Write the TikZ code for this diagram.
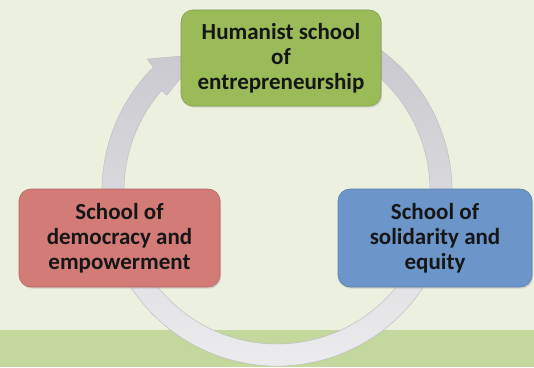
\documentclass[tikz,border=0pt]{standalone}
\usepackage{fontspec}
\setmainfont{Carlito}
\usetikzlibrary{calc,shadows}

\definecolor{bgpale}{RGB}{236,240,223}
\definecolor{bgband}{RGB}{196,215,157}
\definecolor{ringtop}{RGB}{198,198,204}
\definecolor{ringbot}{RGB}{238,238,240}
\definecolor{ringedge}{RGB}{185,185,192}
\definecolor{boxgreen}{RGB}{155,187,89}
\definecolor{boxred}{RGB}{211,123,119}
\definecolor{boxblue}{RGB}{108,150,202}
\definecolor{inkdark}{RGB}{22,22,22}

\tikzset{
  school/.style={
    rectangle, rounded corners=12pt, inner sep=0pt,
    minimum height=98pt, align=center, text=inkdark,
    font=\fontsize{23}{25}\selectfont\bfseries,
    line width=0.6pt,
    drop shadow={opacity=0.25, shadow xshift=1.2pt, shadow yshift=-1.6pt}
  },
  greenbox/.style={school, fill=boxgreen, draw=boxgreen!85!black, minimum width=200pt, minimum height=96pt},
  redbox/.style={school, fill=boxred, draw=boxred!85!black, minimum width=201pt},
  bluebox/.style={school, fill=boxblue, draw=boxblue!85!black, minimum width=194pt},
  cyclearrow/.style={top color=ringtop, bottom color=ringbot, draw=ringedge, line width=0.4pt}
}

\begin{document}
\begin{tikzpicture}[x=1pt,y=1pt]
  % page and lower band
  \fill[bgpale] (0,0) rectangle (534,367);
  \fill[bgband] (0,0) rectangle (534,37);
  \useasboundingbox (0,0) rectangle (534,367);

  % circular arrow running clockwise behind the three boxes
  \coordinate (ctr) at (277,176);
  \shade[cyclearrow]
    ($(ctr)+(75:175)$) arc[start angle=75, end angle=-225, radius=175pt]
    -- ($(ctr)+(134.5:185)$)
    -- ($(ctr)+(119.5:157)$)
    -- ($(ctr)+(139:146)$)
    -- ($(ctr)+(139:153)$)
    arc[start angle=-221, end angle=75, radius=153pt]
    -- cycle;

  % the three schools
  \node[greenbox] (human) at (281,309) {Humanist school\\of\\entrepreneurship};
  \node[redbox]   (democ) at (119.5,129) {School of\\democracy and\\empowerment};
  \node[bluebox]  (solid) at (435,129) {School of\\solidarity and\\equity};
\end{tikzpicture}
\end{document}
